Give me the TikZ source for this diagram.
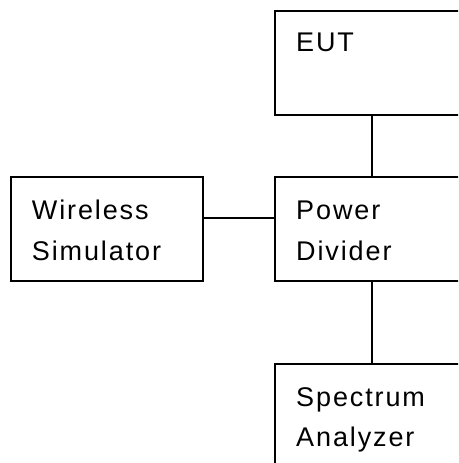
\documentclass[tikz,border=0pt]{standalone}
\usepackage{fontspec}
\setmainfont{Liberation Sans}[LetterSpace=7]
\begin{document}
\begin{tikzpicture}[x=1pt,y=-1pt,
  blk/.style={draw=black, line width=2pt, minimum width=193pt, minimum height=104pt, inner sep=0pt, anchor=north west},
  txt/.style={anchor=base west, inner sep=0pt, font=\fontsize{27}{41}\selectfont},
  wire/.style={draw=black, line width=2pt}]
\useasboundingbox (0,0) rectangle (458,463);
\clip (0,0) rectangle (458,463);
\node[blk] (eut) at (274,9.5) {};
\node[blk, minimum width=192pt] (ws) at (10,176) {};
\node[blk] (pd) at (274,176) {};
\node[blk] (sa) at (274,363) {};
\node[txt] (t1) at (296,51.7) {EUT};
\node[txt] (t2) at (31.7,219.3) {Wireless};
\node[txt] (t3) at (31.7,260) {Simulator};
\node[txt] (t4) at (296,219.3) {Power};
\node[txt] (t5) at (296,260) {Divider};
\node[txt] (t6) at (296,406) {Spectrum};
\node[txt] (t7) at (296,446.7) {Analyzer};
\draw[wire] (eut.south) -- (pd.north);
\draw[wire] (pd.south) -- (sa.north);
\draw[wire] ([yshift=-41.7pt]ws.north east) -- ([yshift=-41.7pt]pd.north west);
\end{tikzpicture}
\end{document}
